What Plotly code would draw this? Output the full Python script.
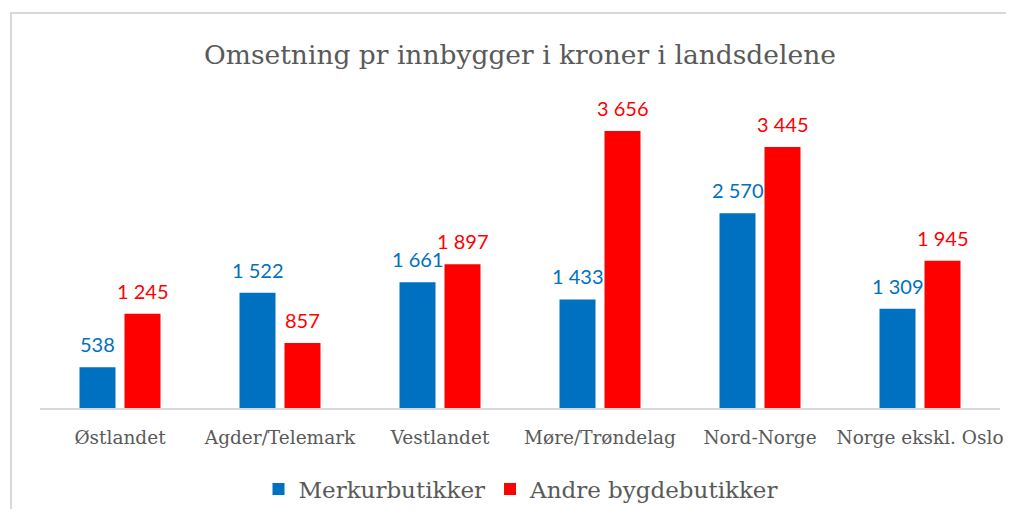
import plotly.graph_objects as go

categories = ["Østlandet", "Agder/Telemark", "Vestlandet", "Møre/Trøndelag", "Nord-Norge", "Norge ekskl. Oslo"]
merkur = [538, 1522, 1661, 1433, 2570, 1309]
andre = [1245, 857, 1897, 3656, 3445, 1945]
series_names = ["Merkurbutikker", "Andre bygdebutikker"]
colors = ["#0070C0", "#FF0000"]

OFF = 8  # page body margin
W, H = 1014 - 2 * OFF, 517 - 2 * OFF
L, T = 40 - OFF, 105 - OFF
R = W - (1000 - OFF)
B = H - (408 - OFF)
plot_h = H - T - B
plot_w = W - L - R

fig = go.Figure()
for name, vals, col in zip(series_names, [merkur, andre], colors):
    fig.add_trace(go.Bar(x=categories, y=vals, name=name, marker=dict(color=col, line=dict(width=0))))

def fmt(v):
    return f"{v:,}".replace(",", " ")

shift = 22.5
for vals, col, sx in [(merkur, colors[0], -shift), (andre, colors[1], shift)]:
    for c, v in zip(categories, vals):
        fig.add_annotation(x=c, y=v, xref="x", yref="y", text=fmt(v), showarrow=False,
                           xshift=sx, yshift=9, yanchor="bottom",
                           font=dict(family="Lato", size=20, color=col))

# border of chart area (left and top edges visible in the frame)
bx0 = (11 - 40) / plot_w
by1 = (408 - 13) / plot_h
fig.add_shape(type="path", xref="paper", yref="paper",
              path=f"M {bx0},-0.5 L {bx0},{by1} L 1.3,{by1}",
              line=dict(color="#D9D9D9", width=2), layer="below")

fig.update_layout(
    width=W, height=H,
    margin=dict(l=L, r=R, t=T, b=B, autoexpand=False),
    paper_bgcolor="white", plot_bgcolor="white",
    barmode="group", bargap=0.4375, bargroupgap=0.2,
    title=dict(text="Omsetning pr innbygger i kroner i landsdelene", x=(520 - OFF) / W, xanchor="center",
               y=1 - (55 - OFF) / H, yanchor="middle",
               font=dict(family="DejaVu Serif", size=26.5, color="#595959")),
    xaxis=dict(showline=True, linecolor="#D9D9D9", linewidth=1.5, ticks="", ticklabelstandoff=12,
               tickfont=dict(family="DejaVu Serif", size=18.5, color="#595959"), fixedrange=True),
    yaxis=dict(range=[0, 4000], visible=False, showgrid=False, zeroline=False),
    legend=dict(orientation="h", x=(521 - 40) / plot_w, xanchor="center",
                yref="container", y=1 - (489 - OFF) / H, yanchor="middle",
                font=dict(family="DejaVu Serif", size=23, color="#595959"), itemwidth=30,
                traceorder="normal"),
    showlegend=True,
)

fig.write_html("out.html")
